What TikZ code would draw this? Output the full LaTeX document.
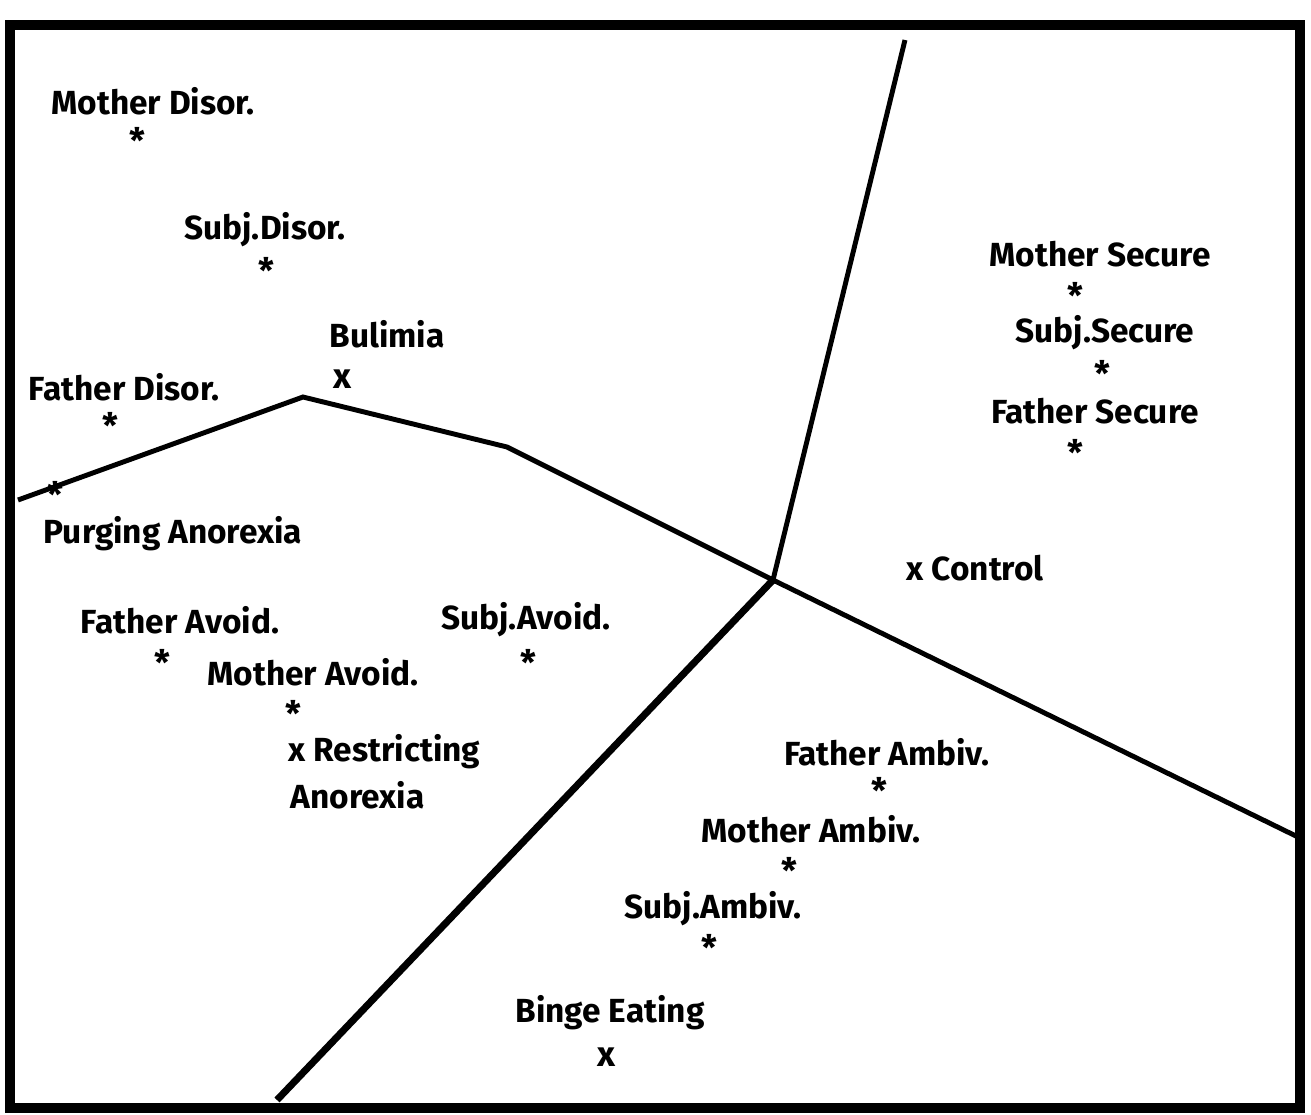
\documentclass[tikz,border=0pt]{standalone}
\usepackage{fontspec}
\setmainfont{Fira Sans}
\begin{document}
\begin{tikzpicture}[x=0.01cm,y=-0.01cm,
  lbl/.style={font=\fontsize{9.5}{11}\selectfont\bfseries, inner sep=0pt},
  mk/.style={font=\fontsize{10}{11}\selectfont\bfseries, inner sep=0pt},
  bnd/.style={line width=1.4pt}]
\useasboundingbox (0,0) rectangle (1311,1115);
\draw[line width=3pt] (10,25) rectangle (1300,1108);
\coordinate (c) at (773,580);
\coordinate (l1) at (18,500);
\coordinate (l2) at (303,397);
\coordinate (l3) at (507,447);
\coordinate (t) at (905,40);
\coordinate (r) at (1300,838);
\coordinate (b) at (277,1100);
\draw[bnd] (l1) -- (l2) -- (l3) -- (c) -- (t);
\draw[bnd] (c) -- (r);
\draw[line width=2pt] (c) -- (b);
\node[lbl] (md) at (153,101) {Mother Disor.};
\node[mk] (mds) at (137,140) {*};
\node[lbl] (sd) at (265,230) {Subj.Disor.};
\node[mk] (sds) at (266,270) {*};
\node[lbl] (bu) at (387,334) {Bulimia};
\node[mk] (bux) at (343,379) {x};
\node[lbl] (fd) at (124,387) {Father Disor.};
\node[mk] (fds) at (110,425) {*};
\node[mk] (pas) at (55,494) {*};
\node[lbl] (pa) at (173,534) {Purging Anorexia};
\node[lbl] (fa) at (180,620) {Father Avoid.};
\node[mk] (fas) at (162,662) {*};
\node[lbl] (ma) at (313,672) {Mother Avoid.};
\node[mk] (mas) at (293,713) {*};
\node[lbl,anchor=west] (ra) at (288,752) {x Restricting};
\node[lbl,anchor=west] (ra2) at (290,795) {Anorexia};
\node[lbl] (sa) at (526,620) {Subj.Avoid.};
\node[mk] (sas) at (528,662) {*};
\node[lbl] (ms) at (1100,254) {Mother Secure};
\node[mk] (mss) at (1075,295) {*};
\node[lbl] (ss) at (1105,333) {Subj.Secure};
\node[mk] (sss) at (1102,373) {*};
\node[lbl] (fs) at (1095,411) {Father Secure};
\node[mk] (fss) at (1075,452) {*};
\node[lbl,anchor=west] (co) at (906,568) {x Control};
\node[lbl] (fam) at (887,752) {Father Ambiv.};
\node[mk] (fams) at (879,790) {*};
\node[lbl] (mam) at (811,829) {Mother Ambiv.};
\node[mk] (mams) at (789,870) {*};
\node[lbl] (sam) at (713,909) {Subj.Ambiv.};
\node[mk] (sams) at (709,947) {*};
\node[lbl] (be) at (610,1013) {Binge Eating};
\node[mk] (bex) at (606,1057) {x};
\end{tikzpicture}
\end{document}
